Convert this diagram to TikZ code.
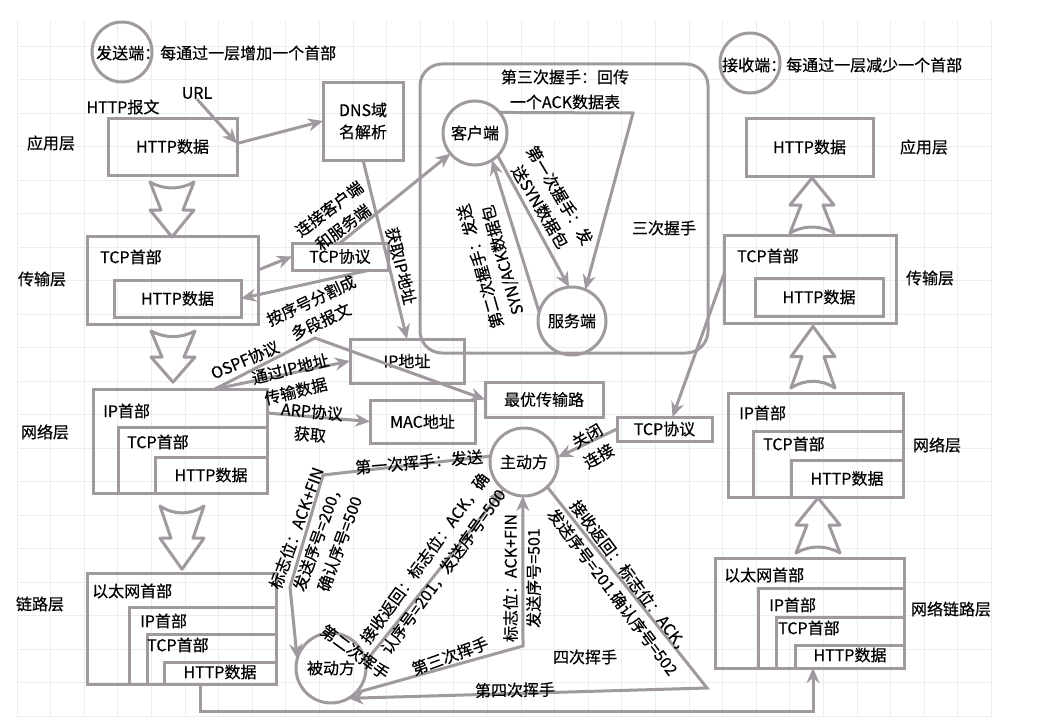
\documentclass[tikz,border=0pt]{standalone}
\usepackage{fontspec}
\setmainfont{Noto Sans CJK SC}[FakeBold=0.4]
\usetikzlibrary{arrows.meta,positioning}
\definecolor{cinza}{RGB}{160,153,160}

\begin{document}
\begin{tikzpicture}[
  x=1pt,y=-1pt,
  font=\fontsize{16}{23}\selectfont,
  linha/.style={draw=cinza,line width=3pt},
  caixa/.style={linha,rectangle,inner sep=0pt,outer sep=0pt},
  circulo/.style={linha,circle,inner sep=0pt,outer sep=0pt},
  texto/.style={inner sep=0pt,align=center},
  seta/.style={draw=cinza,line width=3pt,-{Stealth[length=15pt,width=13pt]}},
  grade/.style={draw=black!7,line width=0.8pt},
  setaoca/.pic={\draw[linha,line join=round] (-22,0) .. controls (-8,8) and (8,8) .. (22,0) -- (11,28) -- (22,28) -- (0,55) -- (-22,28) -- (-11,28) -- cycle;}
]
\useasboundingbox (0,0) rectangle (1038,725);
\fill[white] (0,0) rectangle (1038,725);
\foreach \i in {0,...,29} \draw[grade] (17+33.6*\i,21) -- (17+33.6*\i,716);
\foreach \j in {0,...,20} \draw[grade] (17,46+33.5*\j) -- (992,46+33.5*\j);

\node[circulo,minimum size=60pt] (envC) at (122,52) {};
\node[texto,anchor=west] (envT) at (96,53) {发送端：每通过一层增加一个首部};
\node[circulo,minimum size=60pt] (recC) at (750,63) {};
\node[texto,anchor=west] (recT) at (722,65) {接收端：每通过一层减少一个首部};

\node[texto] (la1) at (51,143) {应用层};
\node[texto] (la2) at (42,279) {传输层};
\node[texto] (la3) at (45,432) {网络层};
\node[texto] (la4) at (40,604) {链路层};
\node[texto] (lb1) at (924,147) {应用层};
\node[texto] (lb2) at (930,278) {传输层};
\node[texto] (lb3) at (937,445) {网络层};
\node[texto] (lb4) at (951,609) {网络链路层};

\node[texto] (url) at (197,93) {URL};
\node[texto] (relhttp) at (123,107) {HTTP报文};
\node[caixa,minimum width=129pt,minimum height=57pt] (httpA) at (172.5,146.5) {HTTP数据};
\node[caixa,minimum width=80pt,minimum height=78pt,align=center,font=\fontsize{16}{22}\selectfont] (dns) at (363,121) {DNS域\\名解析};

\node[caixa,minimum width=171pt,minimum height=88pt] (tcpA) at (172.5,280) {};
\node[texto,anchor=west] (tcpAt) at (100,257) {TCP首部};
\node[caixa,minimum width=127pt,minimum height=37pt] (httpB) at (177.5,298.5) {HTTP数据};

\node[caixa,minimum width=174pt,minimum height=104pt] (ipA) at (180,441) {};
\node[texto,anchor=west] (ipAt) at (103,411) {IP首部};
\node[caixa,minimum width=149pt,minimum height=66pt] (ipAb) at (192.5,460) {};
\node[texto,anchor=west] (ipAbt) at (127,442) {TCP首部};
\node[caixa,minimum width=112pt,minimum height=36pt] (ipAc) at (211,475) {HTTP数据};

\node[caixa,minimum width=189pt,minimum height=111pt] (ethA) at (181.5,628.5) {};
\node[texto,anchor=west] (ethAt) at (92,591) {以太网首部};
\node[caixa,minimum width=147pt,minimum height=77pt] (ethAb) at (202.5,645.5) {};
\node[texto,anchor=west] (ethAbt) at (140,621) {IP首部};
\node[caixa,minimum width=129pt,minimum height=50pt] (ethAc) at (211.5,659) {};
\node[texto,anchor=west] (ethAct) at (147,645) {TCP首部};
\node[caixa,minimum width=112pt,minimum height=22pt] (ethAd) at (220,673) {};
\node[texto] (ethAdt) at (220,672) {HTTP数据};

\pic at (172,182) {setaoca};
\pic[yscale=0.93] at (173,331) {setaoca};
\pic[yscale=1.15] at (182,506) {setaoca};

\node[caixa,minimum width=96pt,minimum height=27pt] (tcpx) at (340,256.5) {TCP协议};
\node[caixa,minimum width=114pt,minimum height=44pt] (ipend) at (407,361) {IP地址};
\node[caixa,minimum width=118pt,minimum height=35pt] (rota) at (544,399.5) {最优传输路};
\node[caixa,minimum width=105pt,minimum height=43pt] (mac) at (422.5,421.5) {MAC地址};

\node[caixa,rounded corners=22pt,minimum width=288pt,minimum height=289pt] (grupo) at (564,208.5) {};
\node[circulo,minimum size=64pt] (cli) at (475,133) {客户端};
\node[circulo,minimum size=68pt] (srv) at (572,321) {服务端};
\node[texto,font=\fontsize{16}{25}\selectfont] (t3) at (565,89.5) {第三次握手：回传\\一个ACK数据表};
\node[texto] (tres) at (664,228) {三次握手};

\node[circulo,minimum size=68pt] (ativo) at (524,462) {主动方};
\node[circulo,minimum size=70pt] (passivo) at (331,668) {被动方};
\node[caixa,minimum width=95pt,minimum height=24pt] (tcpy) at (664.5,429) {TCP协议};

\node[caixa,minimum width=127pt,minimum height=58pt] (httpR) at (809.5,147) {HTTP数据};
\node[caixa,minimum width=172pt,minimum height=88pt] (tcpR) at (810,279) {};
\node[texto,anchor=west] (tcpRt) at (737,256) {TCP首部};
\node[caixa,minimum width=128pt,minimum height=38pt] (httpRb) at (819,297) {HTTP数据};

\node[caixa,minimum width=175pt,minimum height=104pt] (ipR) at (815.5,445) {};
\node[texto,anchor=west] (ipRt) at (739,413) {IP首部};
\node[caixa,minimum width=150pt,minimum height=66pt] (ipRb) at (828,464) {};
\node[texto,anchor=west] (ipRbt) at (763,444) {TCP首部};
\node[caixa,minimum width=112pt,minimum height=37pt] (ipRc) at (847,478.5) {HTTP数据};

\node[caixa,minimum width=189pt,minimum height=110pt] (ethR) at (809.5,613) {};
\node[texto,anchor=west] (ethRt) at (724,575) {以太网首部};
\node[caixa,minimum width=146pt,minimum height=80pt] (ethRb) at (831,628) {};
\node[texto,anchor=west] (ethRbt) at (769,605) {IP首部};
\node[caixa,minimum width=128pt,minimum height=51pt] (ethRc) at (840,642.5) {};
\node[texto,anchor=west] (ethRct) at (778,628) {TCP首部};
\node[caixa,minimum width=109pt,minimum height=23pt] (ethRd) at (849.5,656.5) {};
\node[texto] (ethRdt) at (850,655) {HTTP数据};

\pic[rotate=180] at (812,233) {setaoca};
\pic[rotate=180,yscale=1.12] at (813,388) {setaoca};
\pic[rotate=180] at (818,553) {setaoca};

\coordinate (pico) at (315,338);
\coordinate (k3) at (633,113);
\coordinate (w1) at (323,475);
\coordinate (w2) at (290,587);
\coordinate (k5) at (523,646);
\coordinate (k6) at (707,688);

\draw[seta] (url.south) -- ([yshift=3pt]httpA.east);
\draw[seta] ([yshift=3pt]httpA.east) -- (dns.west);
\draw[seta] (dns.south) -- (ipend.north);
\draw[seta] ([yshift=10pt]tcpA.east) -- (tcpx.west);
\draw[seta] ([xshift=30pt]tcpx.south) -- (httpB.east);
\draw[seta] (tcpx.north) -- (cli.220);
\draw[seta] (cli.-45) -- (srv.95);
\draw[seta] (srv.165) -- (cli.-58);
\draw[seta] (cli.40) -- (k3) -- (srv.67);
\draw[seta] ([xshift=35pt]ipA.north) -- (pico) -- (rota.west);
\draw[seta] ([xshift=35pt]ipA.north) -- (ipend.west);
\draw[seta] ([yshift=28pt]ipA.east) -- (mac.west);
\draw[seta] ([yshift=5pt]tcpR.west) -- ([xshift=8pt]tcpy.north);
\draw[seta] (tcpy.west) -- (ativo.8);
\draw[seta] (ativo.170) -- (w1) -- (w2) -- (passivo.165);
\draw[seta] (passivo.10) -- (ativo.233);
\draw[seta] (passivo.-45) -- (k5) -- (ativo.268);
\draw[seta] (ativo.-47) -- (k6) -- (passivo.-60);
\draw[seta] ([xshift=18.5pt]ethA.south) -- ++(0,27) -| ([xshift=3.5pt]ethR.south);

\node[texto,rotate=-76] (lIP) at (401,266) {获取IP地址};
\node[texto,rotate=25] (lseg) at (316,311) {按序号分割成\\多段报文};
\node[texto,rotate=37] (lcon) at (336,218) {连接客户端\\和服务端};
\node[texto,rotate=-59] (l1h) at (550,201) {第一次握手：发\\送SYN数据包};
\node[texto,rotate=106] (l2h) at (492,263) {第二次握手：发送\\SYN/ACK数据包};
\node[texto,rotate=23] (lospf) at (245,360) {OSPF协议};
\node[texto,rotate=14] (lviaip) at (293,380) {通过IP地址\\传输数据};
\node[texto,rotate=-5] (larp) at (311,423) {ARP协议\\获取};
\node[texto,rotate=30] (lfecha) at (593,446) {关闭\\连接};
\node[texto,rotate=5] (l1w) at (419,462) {第一次挥手：发送};
\node[texto,rotate=70] (l1wb) at (318,536) {标志位：ACK+FIN\\发送序号=200，\\确认序号=500};
\node[texto,rotate=-36] (l2w) at (355,652) {第二次挥手};
\node[texto,rotate=54] (l2wb) at (434,565) {接收返回：标志位：ACK，确\\认序号=201，发送序号=500};
\node[texto,rotate=20] (l3w) at (450,656) {第三次挥手};
\node[texto,rotate=90] (l3wb) at (522,578) {标志位：ACK+FIN\\发送序号=501};
\node[texto,rotate=-53] (l4wb) at (622,585) {接收返回：标志位：ACK，\\发送序号=201.确认序号=502};
\node[texto] (l4) at (585,657) {四次挥手};
\node[texto,rotate=1] (l4w) at (515,690) {第四次挥手};
\end{tikzpicture}
\end{document}
